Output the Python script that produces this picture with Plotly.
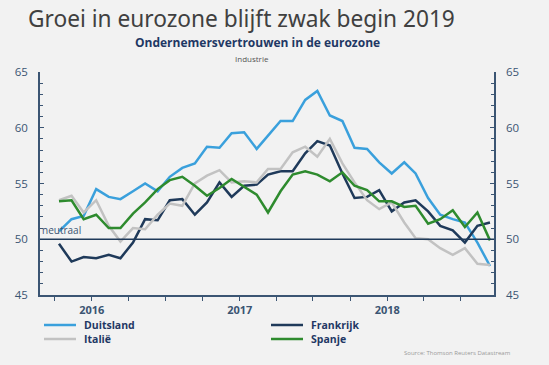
import plotly.graph_objects as go
import pandas as pd

# Monthly dates as placed on the chart's time axis
dates = pd.date_range("2015-09-12", periods=36, freq="MS") + pd.Timedelta(days=11)

duitsland = [50.7, 51.8, 52.1, 54.5, 53.8, 53.6, 54.3, 55.0, 54.3, 55.6, 56.4, 56.8,
             58.3, 58.2, 59.5, 59.6, 58.1, 59.3, 60.6, 60.6, 62.5, 63.3, 61.1, 60.6,
             58.2, 58.1, 56.9, 55.9, 56.9, 55.9, 53.7, 52.2, 51.8, 51.5, 49.7, 47.6]
frankrijk = [49.6, 48.0, 48.4, 48.3, 48.6, 48.3, 49.7, 51.8, 51.7, 53.5, 53.6, 52.2,
             53.3, 55.1, 53.8, 54.8, 54.9, 55.8, 56.1, 56.1, 57.7, 58.8, 58.4, 55.9,
             53.7, 53.8, 54.4, 52.5, 53.3, 53.5, 52.5, 51.2, 50.8, 49.7, 51.2, 51.5]
italie = [53.5, 53.9, 52.4, 53.5, 51.2, 49.8, 51.0, 50.9, 52.2, 53.2, 53.0, 55.0,
          55.7, 56.2, 55.1, 55.2, 55.1, 56.3, 56.3, 57.8, 58.3, 57.4, 59.0, 56.8,
          55.1, 53.5, 52.7, 53.3, 51.5, 50.1, 50.0, 49.2, 48.6, 49.2, 47.8, 47.7]
spanje = [53.4, 53.5, 51.8, 52.2, 51.0, 51.0, 52.3, 53.3, 54.5, 55.3, 55.6, 54.8,
          53.9, 54.6, 55.4, 54.7, 54.0, 52.4, 54.3, 55.8, 56.1, 55.8, 55.2, 56.0,
          54.8, 54.4, 53.4, 53.4, 52.9, 53.0, 51.4, 51.8, 52.6, 51.1, 52.4, 49.9]

y_ticks = [45, 50, 55, 60, 65]
x_tickvals = pd.date_range("2015-10-01", "2018-07-01", freq="QS")
x_ticktext = [str(d.year) if d.month == 1 else "" for d in x_tickvals]

navy = "#1f3a5a"
axis_col = "#3b5573"
bg = "#f2f2f2"

W, H = 549, 365
L, R, T, B = 40, 55, 72, 70
PW, PH = W - L - R, H - T - B


def px_x(x):
    return (x - L) / PW


def px_y(y):
    return (H - B - y) / PH


fig = go.Figure()
series = [
    ("Duitsland", duitsland, "#3aa0dc"),
    ("Frankrijk", frankrijk, "#1f3a5a"),
    ("Italië", italie, "#c2c2c2"),
    ("Spanje", spanje, "#2e8b2e"),
]
for name, vals, col in series:
    fig.add_trace(go.Scatter(x=dates, y=vals, mode="lines", name=name,
                             line=dict(color=col, width=2.5)))
# invisible trace to show the right axis
fig.add_trace(go.Scatter(x=[dates[0]], y=[50], yaxis="y2", mode="lines",
                         hoverinfo="skip", line=dict(width=0)))

fig.add_shape(type="line", xref="paper", x0=0, x1=1, yref="y", y0=50, y1=50,
              line=dict(color=navy, width=1.3))

fig.add_annotation(text="neutraal", xref="paper", x=0, yref="y", y=50,
                   xanchor="left", yanchor="bottom", showarrow=False,
                   font=dict(size=10, color="#3b5573", family="Open Sans"))

# legend drawn manually (2 x 2)
legend_pos = [(44, 325), (271, 325), (44, 339), (271, 339)]
for (name, vals, col), (lx, ly) in zip(series, legend_pos):
    fig.add_shape(type="line", xref="paper", yref="paper",
                  x0=px_x(lx), x1=px_x(lx + 32), y0=px_y(ly), y1=px_y(ly),
                  line=dict(color=col, width=2.5))
    fig.add_annotation(text="<b>" + name + "</b>", xref="paper", yref="paper",
                       x=px_x(lx + 38), y=px_y(ly), xanchor="left", yanchor="middle",
                       showarrow=False,
                       font=dict(size=10.5, color="#1f3864", family="Open Sans"))

fig.add_annotation(text="Groei in eurozone blijft zwak begin 2019", xref="paper", x=px_x(26),
                   yref="paper", y=px_y(19), xanchor="left", yanchor="middle",
                   showarrow=False, font=dict(size=22.7, color="#404040", family="Noto Sans"))
fig.add_annotation(text="<b>Ondernemersvertrouwen in de eurozone</b>", xref="paper", x=px_x(257),
                   yref="paper", y=px_y(42), xanchor="center", yanchor="middle",
                   showarrow=False, font=dict(size=12, color="#1f3864", family="Open Sans"))
fig.add_annotation(text="Industrie", xref="paper", x=px_x(252),
                   yref="paper", y=px_y(58), xanchor="center", yanchor="middle",
                   showarrow=False, font=dict(size=8, color="#555555", family="Open Sans"))
fig.add_annotation(text="Source: Thomson Reuters Datastream", xref="paper", x=px_x(513),
                   yref="paper", y=px_y(353), xanchor="right", yanchor="middle",
                   showarrow=False, font=dict(size=6, color="#9a9a9a", family="Open Sans"))

yax = dict(range=[45, 65], tickvals=y_ticks, showgrid=False, zeroline=False,
           showline=True, linecolor=axis_col, linewidth=1.5,
           ticks="inside", ticklen=4, tickcolor=axis_col, ticklabelstandoff=8,
           minor=dict(dtick=1, ticks="inside", ticklen=3, tickcolor=axis_col),
           tickfont=dict(size=11.5, color=axis_col, family="Open Sans"))

fig.update_layout(
    width=W, height=H,
    margin=dict(l=L, r=R, t=T, b=B, autoexpand=False),
    paper_bgcolor=bg, plot_bgcolor=bg,
    showlegend=False,
    xaxis=dict(range=["2015-08-26", "2018-09-22"], tickvals=x_tickvals, ticktext=x_ticktext,
               showgrid=False, zeroline=False, showline=True, linecolor=axis_col, linewidth=1.5,
               ticks="outside", ticklen=4, tickcolor=axis_col,
               tickfont=dict(size=11, color=axis_col, family="Open Sans", weight="bold")),
    yaxis=yax,
    yaxis2=dict(yax, overlaying="y", side="right", anchor="x"),
)

fig.write_html("out.html",
               config={"displayModeBar": False},
               post_script="document.body.style.margin='0px';"
                           "document.body.style.overflow='hidden';")
